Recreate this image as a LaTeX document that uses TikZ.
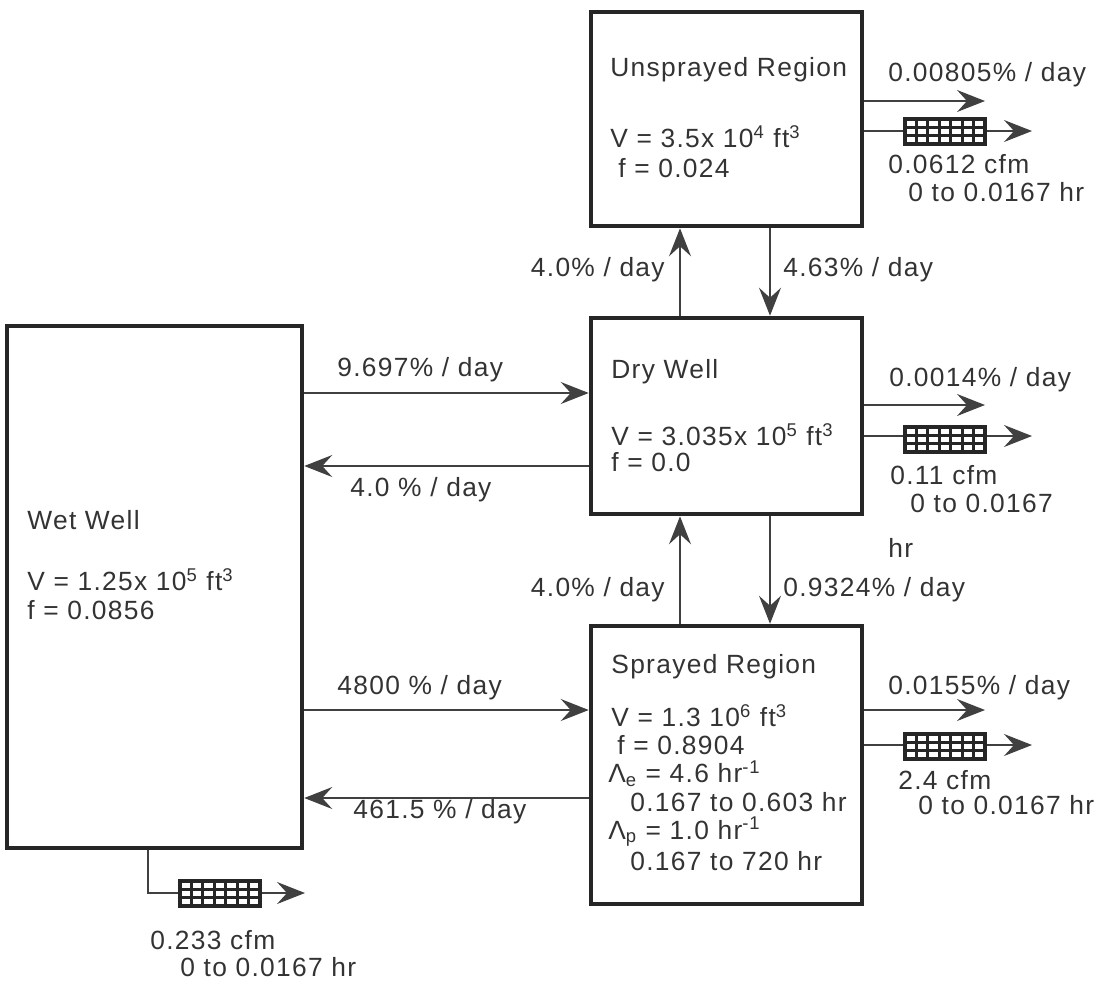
\documentclass[tikz,border=0pt]{standalone}
\usepackage{fontspec}
\setmainfont{Liberation Sans}[LetterSpace=5]
\usetikzlibrary{arrows.meta}

\begin{document}
\begin{tikzpicture}[x=0.02cm,y=-0.02cm,
    region/.style={draw=black!85,line width=2.6pt,inner sep=0pt},
    lbl/.style={anchor=west,inner sep=0pt,text=black!80,font=\fontsize{15}{17}\selectfont},
    flow/.style={draw=black!75,line width=0.8pt,-{Stealth[length=0.56cm,width=0.44cm,inset=0.2cm]}},
    filt/.style={draw=black!85,line width=2pt,fill=white}]
    \useasboundingbox (0,0) rectangle (1107,992);
    % compartments
    \node[region,minimum width=5.42cm,minimum height=4.28cm] (unspr) at (726.5,119) {};
    \node[region,minimum width=5.42cm,minimum height=3.92cm] (dry) at (726.5,416) {};
    \node[region,minimum width=5.42cm,minimum height=5.56cm] (spray) at (726.5,765) {};
    \node[region,minimum width=5.9cm,minimum height=10.44cm] (wet) at (154.5,587) {};
    % levels of the connectors
    \coordinate (xl) at (680,0);
    \coordinate (xr) at (770,0);
    \coordinate (y1) at (0,393);
    \coordinate (y2) at (0,466);
    \coordinate (y3) at (0,710);
    \coordinate (y4) at (0,798);
    \coordinate (xw) at (148,0);
    % between the compartments
    \draw[flow] (dry.north -| xl) -- (unspr.south -| xl);
    \draw[flow] (unspr.south -| xr) -- (dry.north -| xr);
    \draw[flow] (spray.north -| xl) -- (dry.south -| xl);
    \draw[flow] (dry.south -| xr) -- (spray.north -| xr);
    \draw[flow] (wet.east |- y1) -- (dry.west |- y1);
    \draw[flow] (dry.west |- y2) -- (wet.east |- y2);
    \draw[flow] (wet.east |- y3) -- (spray.west |- y3);
    \draw[flow] (spray.west |- y4) -- (wet.east |- y4);
    % leakage out
    \coordinate (uo1) at (985,101);
    \coordinate (uo2) at (1032,131);
    \coordinate (do1) at (985,405);
    \coordinate (do2) at (1032,436);
    \coordinate (so1) at (985,710);
    \coordinate (so2) at (1032,745);
    \coordinate (wc) at (148,893);
    \coordinate (wo) at (305,893);
    \draw[flow] (unspr.east |- uo1) -- (uo1);
    \draw[flow] (unspr.east |- uo2) -- (uo2);
    \draw[flow] (dry.east |- do1) -- (do1);
    \draw[flow] (dry.east |- do2) -- (do2);
    \draw[flow] (spray.east |- so1) -- (so1);
    \draw[flow] (spray.east |- so2) -- (so2);
    \draw[flow] (wet.south -| xw) -- (wc) -- (wo);
    % filters
    \foreach \fx/\fy in {905/131, 905/439, 905/746, 180/893} {
        \draw[filt] (\fx,\fy-12) rectangle ++(80,25);
        \foreach \i in {1,...,6}
            \draw[black!85,line width=1.6pt] (\fx+\i*80/7,\fy-12) -- ++(0,25);
        \foreach \j in {1,2}
            \draw[black!85,line width=1.6pt] (\fx,\fy-12+\j*25/3) -- ++(80,0);
    }
    % texts in the compartments
    \node[lbl] (ut) at (610,70) {Unsprayed Region};
    \node[lbl] (uv) at (610,137) {V = 3.5x 10\textsuperscript{4} ft\textsuperscript{3}};
    \node[lbl] (uf) at (618,168) {f = 0.024};
    \node[lbl] (dt) at (611,372) {Dry Well};
    \node[lbl] (dv) at (611,435) {V = 3.035x 10\textsuperscript{5} ft\textsuperscript{3}};
    \node[lbl] (df) at (611,462) {f = 0.0};
    \node[lbl] (st) at (611,667) {Sprayed Region};
    \node[lbl] (sv) at (611,716) {V = 1.3 10\textsuperscript{6} ft\textsuperscript{3}};
    \node[lbl] (sf) at (617,745) {f = 0.8904};
    \node[lbl] (sle) at (608,774) {Λ\textsubscript{e} = 4.6 hr\textsuperscript{-1}};
    \node[lbl] (slet) at (630,802) {0.167 to 0.603 hr};
    \node[lbl] (slp) at (608,832) {Λ\textsubscript{p} = 1.0 hr\textsuperscript{-1}};
    \node[lbl] (slpt) at (630,861) {0.167 to 720 hr};
    \node[lbl] (wt) at (27,520) {Wet Well};
    \node[lbl] (wv) at (27,580) {V = 1.25x 10\textsuperscript{5} ft\textsuperscript{3}};
    \node[lbl] (wf) at (27,610) {f = 0.0856};
    % rates
    \node[lbl,anchor=east] (r1) at (665,270) {4.0\% / day};
    \node[lbl] (r2) at (783,270) {4.63\% / day};
    \node[lbl,anchor=east] (r3) at (665,590) {4.0\% / day};
    \node[lbl] (r4) at (783,590) {0.9324\% / day};
    \node[lbl] (r5) at (337,370) {9.697\% / day};
    \node[lbl] (r6) at (350,490) {4.0 \% / day};
    \node[lbl] (r7) at (337,688) {4800 \% / day};
    \node[lbl] (r8) at (353,812) {461.5 \% / day};
    \node[lbl] (ul) at (888,75) {0.00805\% / day};
    \node[lbl] (uc) at (888,164) {0.0612 cfm};
    \node[lbl] (uh) at (908,192) {0 to 0.0167 hr};
    \node[lbl] (dl) at (889,380) {0.0014\% / day};
    \node[lbl] (dc) at (890,475) {0.11 cfm};
    \node[lbl] (dh) at (910,503) {0 to 0.0167};
    \node[lbl] (dh2) at (888,548) {hr};
    \node[lbl] (sl) at (888,688) {0.0155\% / day};
    \node[lbl] (sc) at (898,780) {2.4 cfm};
    \node[lbl] (sh) at (918,805) {0 to 0.0167 hr};
    \node[lbl] (wc2) at (150,940) {0.233 cfm};
    \node[lbl] (wh) at (180,967) {0 to 0.0167 hr};
\end{tikzpicture}
\end{document}
